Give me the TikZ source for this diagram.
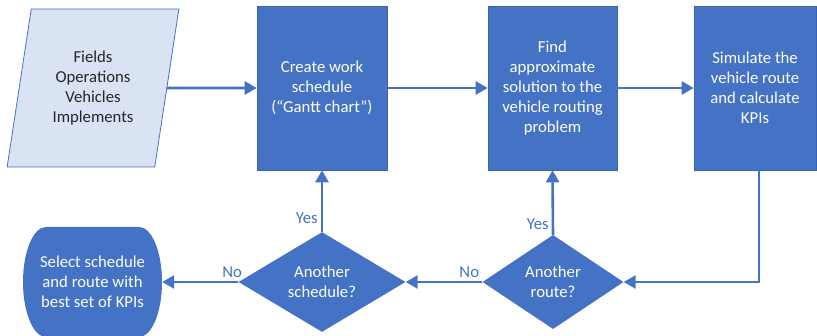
\documentclass[tikz,border=0pt]{standalone}
\usepackage{fontspec}
\setmainfont{Carlito}
\usetikzlibrary{shapes.geometric,arrows.meta}
\definecolor{flowblue}{HTML}{4472C4}
\definecolor{flowedge}{HTML}{3A63AE}
\definecolor{inputfill}{HTML}{DAE3F3}
\definecolor{inputtext}{HTML}{262626}
\begin{document}
\begin{tikzpicture}[x=1pt,y=1pt,
  font=\fontsize{16.7}{20}\selectfont,
  process/.style={rectangle,fill=flowblue,draw=flowedge,line width=0.6pt,text=white,
    align=center,minimum height=164pt,inner sep=0pt},
  decision/.style={diamond,fill=flowblue,text=white,align=center,inner sep=0pt},
  datain/.style={trapezium,trapezium left angle=78,trapezium right angle=102,
    trapezium stretches=true,minimum width=172pt,minimum height=158pt,inner sep=0pt,
    fill=inputfill,draw=flowblue,line width=0.8pt,text=inputtext,align=center},
  endtext/.style={text=white,align=center,minimum width=139pt,minimum height=110pt,inner sep=0pt},
  flow/.style={draw=flowblue,line width=2.6pt,-{Triangle[length=12pt,width=13pt]}},
  answer/.style={text=flowblue,inner sep=3pt}]
\useasboundingbox (0,0) rectangle (817,336);

% top row
\node[datain] (input) at (93,248) {Fields\\Operations\\Vehicles\\Implements};
\node[process,minimum width=130pt] (create) at (322,248) {Create work\\schedule\\(“Gantt chart”)};
\node[process,minimum width=129pt] (findvrp) at (552.5,248) {Find\\approximate\\solution to the\\vehicle routing\\problem};
\node[process,minimum width=122pt] (simulate) at (755,248) {Simulate the\\vehicle route\\and calculate\\KPIs};

% bottom row
\node[decision,minimum width=167pt,minimum height=86pt] (anosched) at (322,54) {Another\\schedule?};
\node[decision,minimum width=141pt,minimum height=94pt] (anoroute) at (553,54) {Another\\route?};
\fill[flowblue] (46,109) -- (139,109) arc[start angle=90,end angle=-90,x radius=23,y radius=55]
  -- (46,-1) arc[start angle=270,end angle=90,x radius=23,y radius=55] -- cycle;
\node[endtext] (best) at (92.5,54) {Select schedule\\and route with\\best set of KPIs};

% connectors
\draw[flow] (input) -- (create);
\draw[flow] (create) -- (findvrp);
\draw[flow] (findvrp) -- (simulate);
\draw[flow] ([xshift=4pt]simulate.south) |- (anoroute.east);
\draw[flow] (anoroute.north) -- node[answer,left,pos=0.17] {Yes} (findvrp.south);
\draw[flow] (anoroute.west) -- node[answer,above,pos=0.17] {No} (anosched.east);
\draw[flow] (anosched.north) -- node[answer,left,pos=0.22] {Yes} (create.south);
\draw[flow] (anosched.west) -- node[answer,above,pos=0.08] {No} (best.east);
\end{tikzpicture}
\end{document}
